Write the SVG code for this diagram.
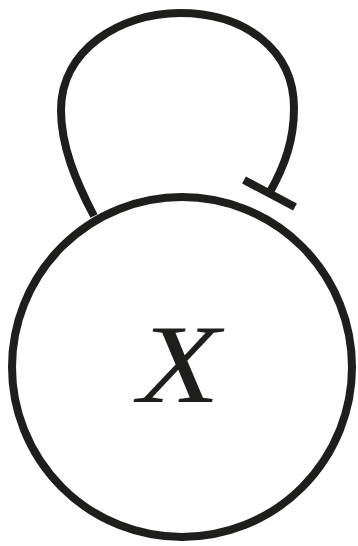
<svg xmlns="http://www.w3.org/2000/svg" width="358" height="546" viewBox="0 0 358 546">
<style>
.ln{fill:none;stroke:#1e1e1c;stroke-width:8}
.lbl{font-family:"Liberation Serif","Times New Roman",serif;font-style:italic;font-size:112px;fill:#1e1e1c}
</style>
<rect width="358" height="546" fill="#fff"/>
<g id="connectors">
<path class="ln" d="M94,216 C75,180 61,145 61,110 C61,50 120,13 180,13 C245,13 294,50 294,108 C294,140 285,165 270,192"/>
<line class="ln" x1="244" y1="180" x2="295" y2="207"/>
</g>
<g id="nodeX">
<circle class="ln" cx="182" cy="367" r="170"/>
<text class="lbl" transform="translate(179,402) scale(1.2,1)" text-anchor="middle">X</text>
</g>
</svg>
